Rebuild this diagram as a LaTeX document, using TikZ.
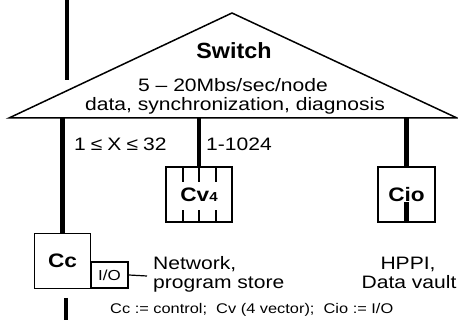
\documentclass[tikz,border=0pt]{standalone}
\usepackage{fontspec}
\setmainfont[FakeStretch=1.17]{Liberation Sans}
\newfontfamily\bwide[FakeStretch=1.16]{Liberation Sans}
\newfontfamily\bsw[FakeStretch=1.06]{Liberation Sans}
\begin{document}
\begin{tikzpicture}[x=1pt,y=-1pt,
  bus/.style={line width=4.6pt},
  box/.style={draw, line width=1.8pt, inner sep=0pt, font=\fontsize{19.5}{19.5}\bwide\bfseries},
  tick/.style={line width=1.2pt},
  txt/.style={inner sep=0pt, font=\fontsize{18}{19}\selectfont}]
\useasboundingbox (0,0) rectangle (458,320);
% switch triangle
\coordinate (tl) at (9,118);
\coordinate (tt) at (232,13);
\coordinate (tr) at (457,118);
\draw[line width=1.5pt, line join=miter] (tl) -- (tt) -- (tr) -- cycle;
\node[inner sep=0pt, anchor=base, font=\fontsize{22}{22}\bsw\bfseries] (sw) at (234,58.5) {Switch};
\node[txt, anchor=base] (sw2) at (233,92) {5 -- 20Mbs/sec/node};
\node[txt, anchor=base] (sw3) at (235,110.5) {data, synchronization, diagnosis};
% boxes
\node[box, minimum width=56pt, minimum height=55pt] (cc) at (62.5,261) {Cc};
\node[box, minimum width=37pt, minimum height=26pt, font=\fontsize{14.5}{14.5}\selectfont] (io) at (109.5,275) {I/O};
\node[box, minimum width=66pt, minimum height=55pt] (cv) at (199,194.5) {Cv{\fontsize{13}{13}\selectfont 4}};
\node[box, minimum width=57pt, minimum height=55pt] (cio) at (406.5,194.5) {Cio};
% tick marks in Cv4
\foreach \dx in {-16,0,17}{
  \draw[tick] ([xshift=\dx pt]cv.north) -- ++(0,16);
  \draw[tick] ([xshift=\dx pt]cv.south) -- ++(0,-13);
}
% bus lines
\coordinate (topa) at (67,0);
\coordinate (topb) at (67,80);
\draw[bus] (topa) -- (topb);
\coordinate (b1) at (cc.north |- 0,118);
\coordinate (b2) at (cv.north |- 0,118);
\coordinate (b3) at (cio.north |- 0,118);
\draw[bus] (b1) -- (cc.north);
\draw[bus] (b2) -- (cv.north);
\draw[bus] (b3) -- (cio.north);
\coordinate (cioe) at ([yshift=21pt]cio.south);
\draw[bus] (cio.south) -- (cioe);
\coordinate (cca) at (66,298);
\coordinate (ccb) at (66,320);
\draw[bus] (cca) -- (ccb);
\coordinate (ioe) at (147,276);
\draw[line width=1.2pt] (io.east) -- (ioe);
% labels
\node[txt, anchor=base west] (l1) at (74,151) {1\hspace{5pt}≤\hspace{5pt}X\hspace{5pt}≤\hspace{5pt}32};
\node[txt, anchor=base west] (l2) at (206,151) {1-1024};
\node[txt, anchor=base west] (net1) at (153,270) {Network,};
\node[txt, anchor=base west] (net2) at (153,288.5) {program store};
\node[txt, anchor=base] (hp1) at (408,270) {HPPI,};
\node[txt, anchor=base] (hp2) at (409,288.5) {Data vault};
\node[inner sep=0pt, anchor=base west, font=\fontsize{14}{14}\selectfont] (cap) at (110,314) {Cc := control;\ \ Cv (4 vector);\ \ Cio := I/O};
\end{tikzpicture}
\end{document}
